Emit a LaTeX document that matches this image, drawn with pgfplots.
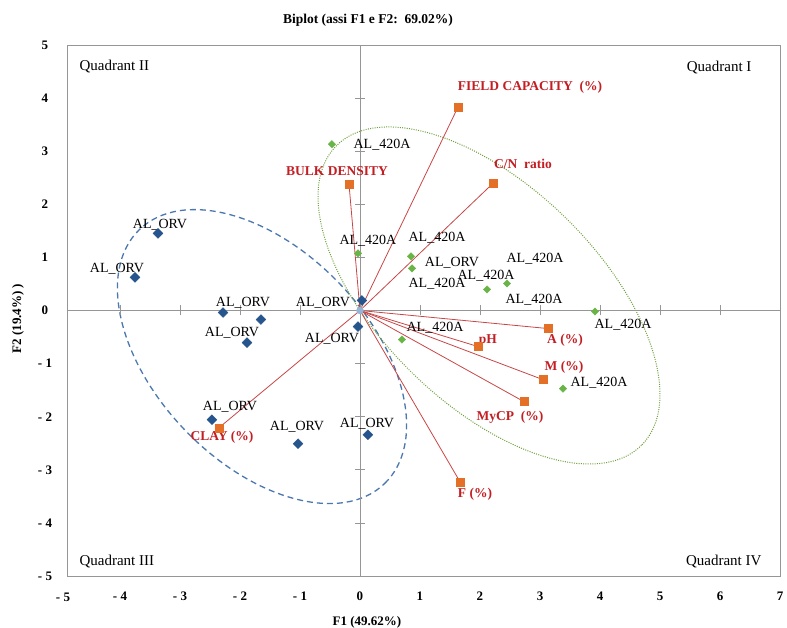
\documentclass[border=0pt]{standalone}
\usepackage{fontspec}
\setmainfont{Liberation Serif}
\usepackage{pgfplots}
\pgfplotsset{compat=1.18}
\pgfdeclarelayer{background}
\pgfsetlayers{background,main}
\definecolor{axgray}{RGB}{150,150,150}
\definecolor{orvblue}{RGB}{38,84,140}
\definecolor{agreen}{RGB}{105,180,70}
\definecolor{vorange}{RGB}{228,112,40}
\definecolor{vline}{RGB}{200,70,70}
\definecolor{vlabel}{RGB}{195,30,35}
\definecolor{ellblue}{RGB}{75,120,175}
\definecolor{ellgreen}{RGB}{110,160,60}
\definecolor{origin}{RGB}{150,180,215}
\newcommand{\lab}{\fontsize{14}{16}\selectfont}
\newcommand{\vlab}{\fontsize{13.5}{15}\selectfont\bfseries}
\newcommand{\qlab}{\fontsize{15}{17}\selectfont}
\begin{document}
\begin{tikzpicture}
\begin{axis}[
  scale only axis, width=713pt, height=531pt,
  xmin=-4.883, xmax=7, ymin=-5, ymax=5,
  axis line style={axgray, line width=0.8pt},
  xtick={-4,...,7}, xticklabels={- 4,- 3,- 2,- 1,0,1,2,3,4,5,6,7},
  ytick={-5,...,5}, yticklabels={- 5,- 4,- 3,- 2,- 1,0,1,2,3,4,5},
  major tick length=0pt, tick style={draw=none},
  xticklabel style={anchor=center, yshift=-20pt},
  yticklabel style={anchor=center, xshift=-22pt},
  ticklabel style={font=\fontsize{13}{15}\selectfont\bfseries},
  clip=false,
]
% centre axes with ticks
\draw[axgray, line width=0.8pt] (axis cs:-4.883,0) -- (axis cs:7,0);
\draw[axgray, line width=0.8pt] (axis cs:0,-5) -- (axis cs:0,5);
\pgfplotsinvokeforeach{-4,-3,-2,-1,1,2,3,4,5,6}{\draw[axgray, line width=0.8pt] (axis cs:#1,0) ++(0pt,-5pt) -- ++(0pt,10pt);}
\pgfplotsinvokeforeach{-4,-3,-2,-1,1,2,3,4}{\draw[axgray, line width=0.8pt] (axis cs:0,#1) ++(-5pt,0pt) -- ++(10pt,0pt);}
\coordinate (cb) at (axis cs:-1.633,-0.868);
\coordinate (cg) at (axis cs:2.15,0.283);
% variable vectors
\addplot[vline, line width=0.8pt] coordinates {(0,0) (1.633,3.830)};
\addplot[vline, line width=0.8pt] coordinates {(0,0) (2.217,2.396)};
\addplot[vline, line width=0.8pt] coordinates {(0,0) (-0.183,2.377)};
\addplot[vline, line width=0.8pt] coordinates {(0,0) (3.133,-0.340)};
\addplot[vline, line width=0.8pt] coordinates {(0,0) (1.967,-0.679)};
\addplot[vline, line width=0.8pt] coordinates {(0,0) (3.050,-1.302)};
\addplot[vline, line width=0.8pt] coordinates {(0,0) (2.733,-1.717)};
\addplot[vline, line width=0.8pt] coordinates {(0,0) (1.667,-3.226)};
\addplot[vline, line width=0.8pt] coordinates {(0,0) (-2.350,-2.208)};
% AL_ORV observations
\addplot[only marks, mark=square*, mark size=3.5pt, mark options={rotate=45, fill=orvblue, draw=orvblue}] coordinates {
 (-3.367,1.453) (-3.750,0.623) (-2.283,-0.038) (-1.650,-0.170) (0.033,0.189)
 (-1.883,-0.604) (-0.033,-0.302) (-2.467,-2.057) (-1.033,-2.509) (0.133,-2.340)};
% AL_420A observations
\addplot[only marks, mark=square*, mark size=2.6pt, mark options={rotate=45, fill=agreen, draw=agreen}] coordinates {
 (-0.467,3.132) (-0.033,1.075) (0.850,1.019) (0.867,0.792) (2.117,0.396)
 (2.450,0.509) (3.917,-0.019) (0.700,-0.547) (3.383,-1.472)};
% variables
\addplot[only marks, mark=square*, mark size=4pt, mark options={fill=vorange, draw=vorange}] coordinates {
 (1.633,3.830) (2.217,2.396) (-0.183,2.377) (3.133,-0.340) (1.967,-0.679)
 (3.050,-1.302) (2.733,-1.717) (1.667,-3.226) (-2.350,-2.208)};
% origin
\addplot[only marks, mark=*, mark size=3.5pt, mark options={fill=origin, draw=origin}] coordinates {(0,0)};
% observation labels
\node[font=\lab] at (axis cs:-3.333,1.623) {AL\_ORV};
\node[font=\lab] at (axis cs:-4.050,0.792) {AL\_ORV};
\node[font=\lab] at (axis cs:-1.950,0.151) {AL\_ORV};
\node[font=\lab] at (axis cs:-0.617,0.151) {AL\_ORV};
\node[font=\lab] at (axis cs:-2.133,-0.415) {AL\_ORV};
\node[font=\lab] at (axis cs:-0.467,-0.528) {AL\_ORV};
\node[font=\lab] at (axis cs:-2.167,-1.811) {AL\_ORV};
\node[font=\lab] at (axis cs:-1.050,-2.189) {AL\_ORV};
\node[font=\lab] at (axis cs:0.117,-2.132) {AL\_ORV};
\node[font=\lab] at (axis cs:1.533,0.906) {AL\_ORV};
\node[font=\lab] at (axis cs:0.367,3.113) {AL\_420A};
\node[font=\lab] at (axis cs:0.133,1.321) {AL\_420A};
\node[font=\lab] at (axis cs:1.283,1.377) {AL\_420A};
\node[font=\lab] at (axis cs:1.283,0.509) {AL\_420A};
\node[font=\lab] at (axis cs:2.100,0.660) {AL\_420A};
\node[font=\lab] at (axis cs:2.917,0.981) {AL\_420A};
\node[font=\lab] at (axis cs:2.900,0.208) {AL\_420A};
\node[font=\lab] at (axis cs:4.383,-0.264) {AL\_420A};
\node[font=\lab] at (axis cs:1.250,-0.321) {AL\_420A};
\node[font=\lab] at (axis cs:3.983,-1.358) {AL\_420A};
% variable labels
\node[font=\vlab, text=vlabel] at (axis cs:2.833,4.208) {FIELD CAPACITY\ \ (\%)};
\node[font=\vlab, text=vlabel] at (axis cs:2.717,2.755) {C/N\ \ ratio};
\node[font=\vlab, text=vlabel] at (axis cs:-0.383,2.623) {BULK DENSITY};
\node[font=\vlab, text=vlabel] at (axis cs:3.417,-0.566) {A (\%)};
\node[font=\vlab, text=vlabel] at (axis cs:2.133,-0.566) {pH};
\node[font=\vlab, text=vlabel] at (axis cs:3.400,-1.075) {M (\%)};
\node[font=\vlab, text=vlabel] at (axis cs:2.500,-2.019) {MyCP\ \ (\%)};
\node[font=\vlab, text=vlabel] at (axis cs:1.917,-3.453) {F (\%)};
\node[font=\vlab, text=vlabel] at (axis cs:-2.300,-2.396) {CLAY (\%)};
% quadrants
\node[font=\qlab, anchor=west] at (axis cs:-4.733,4.604) {Quadrant II};
\node[font=\qlab, anchor=east] at (axis cs:6.583,4.585) {Quadrant I};
\node[font=\qlab, anchor=west] at (axis cs:-4.733,-4.736) {Quadrant III};
\node[font=\qlab, anchor=east] at (axis cs:6.750,-4.736) {Quadrant IV};
% titles
\node[font=\fontsize{13}{15}\selectfont\bfseries] at (axis cs:-4.950,-5.396) {- 5};
\node[font=\fontsize{13.5}{15}\selectfont\bfseries] at (axis cs:0.133,5.472) {Biplot (assi F1 e F2:\ \ 69.02\%)};
\node[font=\fontsize{13}{15}\selectfont\bfseries] at (axis cs:0.117,-5.868) {F1 (49.62\%)};
\node[font=\fontsize{13}{15}\selectfont\bfseries, rotate=90] at (axis cs:-5.700,-0.151) {F2 (19.4\%) )};
\end{axis}
\begin{pgfonlayer}{background}
\draw[ellblue, line width=1.3pt, dash pattern=on 6pt off 4pt, shift={(cb)}, rotate=-46] (0,0) ellipse [x radius=176.5pt, y radius=106.5pt];
\draw[ellgreen, line width=1pt, dash pattern=on 1pt off 1.3pt, shift={(cg)}, rotate=-44.3] (0,0) ellipse [x radius=213.8pt, y radius=109.1pt];
\end{pgfonlayer}
\pgfresetboundingbox
\path (-67pt,-51pt) rectangle (720pt,576pt);
\end{tikzpicture}
\end{document}
